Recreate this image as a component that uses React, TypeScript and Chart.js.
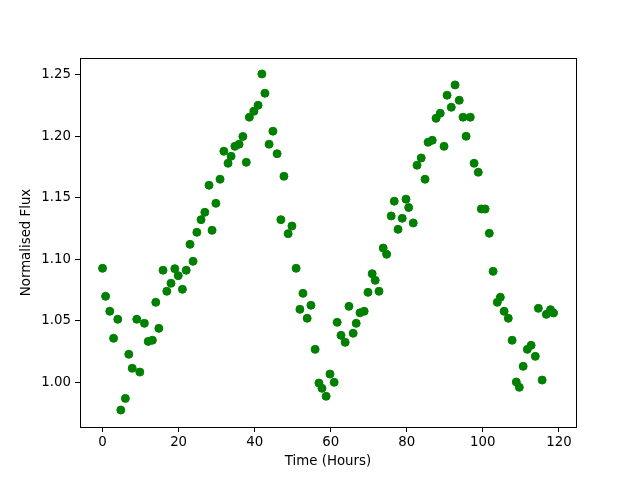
import React, { useEffect, useRef } from "react";
import { Chart, registerables } from "chart.js";

Chart.register(...registerables);

const timeHours: number[] = [
  0, 0.8, 1.9, 2.9, 4.0, 4.8, 6.0, 6.9, 7.8, 9.0,
  9.8, 11.0, 12.0, 13.1, 14.0, 14.8, 15.9, 16.9, 18.0, 19.0,
  19.9, 21.0, 22.0, 23.0, 23.8, 24.8, 25.9, 26.9, 28.0, 28.8,
  29.8, 30.9, 31.9, 33.0, 33.8, 34.8, 35.9, 36.9, 37.8, 38.6,
  39.8, 40.9, 41.9, 42.7, 43.8, 44.8, 45.9, 46.9, 47.7, 48.8,
  49.8, 50.9, 51.9, 52.7, 53.8, 54.8, 55.9, 56.9, 57.7, 58.8,
  59.8, 60.9, 61.7, 62.7, 63.8, 64.8, 65.9, 66.7, 67.7, 68.8,
  69.8, 70.9, 71.7, 72.7, 73.8, 74.7, 75.9, 76.7, 77.7, 78.8,
  79.8, 80.5, 81.7, 82.7, 83.8, 84.8, 85.6, 86.7, 87.7, 88.8,
  89.8, 90.6, 91.7, 92.7, 93.8, 94.8, 95.6, 96.7, 97.7, 98.8,
  99.6, 100.6, 101.7, 102.7, 103.8, 104.6, 105.6, 106.7, 107.7, 108.8,
  109.6, 110.6, 111.7, 112.7, 113.8, 114.6, 115.6, 116.7, 117.8, 118.6,
];

const normalisedFlux: number[] = [
  1.0926, 1.0698, 1.0576, 1.0356, 1.0511, 0.9772, 0.9867, 1.0226, 1.0112, 1.0511,
  1.0081, 1.0478, 1.0331, 1.034, 1.0649, 1.0437, 1.091, 1.0739, 1.0804, 1.0923,
  1.0866, 1.0755, 1.091, 1.1121, 1.0983, 1.1219, 1.1322, 1.1382, 1.1602, 1.1235,
  1.1455, 1.1651, 1.1879, 1.1781, 1.1838, 1.1919, 1.1936, 1.1999, 1.1789, 1.2156,
  1.2204, 1.2253, 1.2508, 1.2351, 1.1936, 1.2042, 1.1859, 1.1322, 1.1675, 1.1208,
  1.127, 1.0926, 1.0592, 1.0722, 1.0519, 1.0625, 1.0266, 0.9992, 0.9949, 0.9884,
  1.0065, 0.9998, 1.0486, 1.038, 1.0323, 1.0616, 1.0397, 1.0478, 1.0564, 1.0576,
  1.073, 1.0882, 1.0828, 1.0739, 1.1091, 1.104, 1.1352, 1.1472, 1.1243, 1.1333,
  1.1489, 1.1421, 1.1295, 1.1765, 1.1824, 1.1651, 1.1952, 1.1968, 1.2147, 1.2188,
  1.1919, 1.2335, 1.2237, 1.2419, 1.2294, 1.2156, 1.2001, 1.2156, 1.1781, 1.1708,
  1.1409, 1.1409, 1.1211, 1.0901, 1.0649, 1.069, 1.0576, 1.0519, 1.034, 1.0,
  0.9957, 1.0128, 1.0266, 1.0299, 1.0209, 1.06, 1.0016, 1.0551, 1.0589, 1.0562,
];

const xTicks: number[] = [0, 20, 40, 60, 80, 100, 120];
const yTicks: number[] = [1.0, 1.05, 1.1, 1.15, 1.2, 1.25];

const FONT = "'DejaVu Sans', sans-serif";

const framePlugin = {
  id: "frame",
  afterDraw(chart: any) {
    const { ctx, chartArea } = chart;
    ctx.save();
    ctx.strokeStyle = "#000";
    ctx.lineWidth = 1;
    ctx.strokeRect(
      Math.round(chartArea.left) + 0.5,
      Math.round(chartArea.top) + 0.5,
      Math.round(chartArea.right - chartArea.left),
      Math.round(chartArea.bottom - chartArea.top)
    );
    ctx.restore();
  },
};

export default function App() {
  const ref = useRef<HTMLCanvasElement | null>(null);

  useEffect(() => {
    if (!ref.current) return;
    const points = timeHours.map((x, i) => ({ x, y: normalisedFlux[i] }));
    const chart = new Chart(ref.current, {
      type: "scatter",
      data: {
        datasets: [
          {
            data: points,
            backgroundColor: "#008000",
            borderColor: "#008000",
            pointRadius: 4,
            pointBorderWidth: 1,
            pointHoverRadius: 4,
          },
        ],
      },
      options: {
        responsive: false,
        animation: false,
        events: [],
        layout: { padding: { left: 0, right: 64, top: 58, bottom: 0 } },
        plugins: {
          legend: { display: false },
          tooltip: { enabled: false },
        },
        scales: {
          x: {
            type: "linear",
            min: -5.93,
            max: 124.5,
            afterBuildTicks: (scale: any) => {
              scale.ticks = xTicks.map((v) => ({ value: v }));
            },
            afterFit: (scale: any) => {
              scale.height = 53;
            },
            border: { display: false },
            grid: {
              display: true,
              drawOnChartArea: false,
              drawTicks: true,
              tickLength: 5,
              color: "#000",
              lineWidth: 1,
            },
            ticks: {
              color: "#000",
              padding: 3,
              maxRotation: 0,
              font: { family: FONT, size: 13.33 },
              callback: (v: any) => String(v),
            },
            title: {
              display: true,
              text: "Time (Hours)",
              color: "#000",
              font: { family: FONT, size: 13.33 },
              padding: { top: 0, bottom: 10 },
            },
          },
          y: {
            type: "linear",
            min: 0.9634,
            max: 1.2638,
            afterBuildTicks: (scale: any) => {
              scale.ticks = yTicks.map((v) => ({ value: v }));
            },
            afterFit: (scale: any) => {
              scale.width = 80;
            },
            border: { display: false },
            grid: {
              display: true,
              drawOnChartArea: false,
              drawTicks: true,
              tickLength: 5,
              color: "#000",
              lineWidth: 1,
            },
            ticks: {
              color: "#000",
              padding: 4,
              font: { family: FONT, size: 13.33 },
              callback: (v: any) => Number(v).toFixed(2),
            },
            title: {
              display: true,
              text: "Normalised Flux",
              color: "#000",
              font: { family: FONT, size: 13.33 },
              padding: { top: 18.5, bottom: 0 },
            },
          },
        },
      },
      plugins: [framePlugin],
    });
    return () => chart.destroy();
  }, []);

  return (
    <div style={{ position: "fixed", left: 0, top: 0, width: 640, height: 480, background: "#fff" }}>
      <canvas ref={ref} width={640} height={480} style={{ display: "block" }} />
    </div>
  );
}
